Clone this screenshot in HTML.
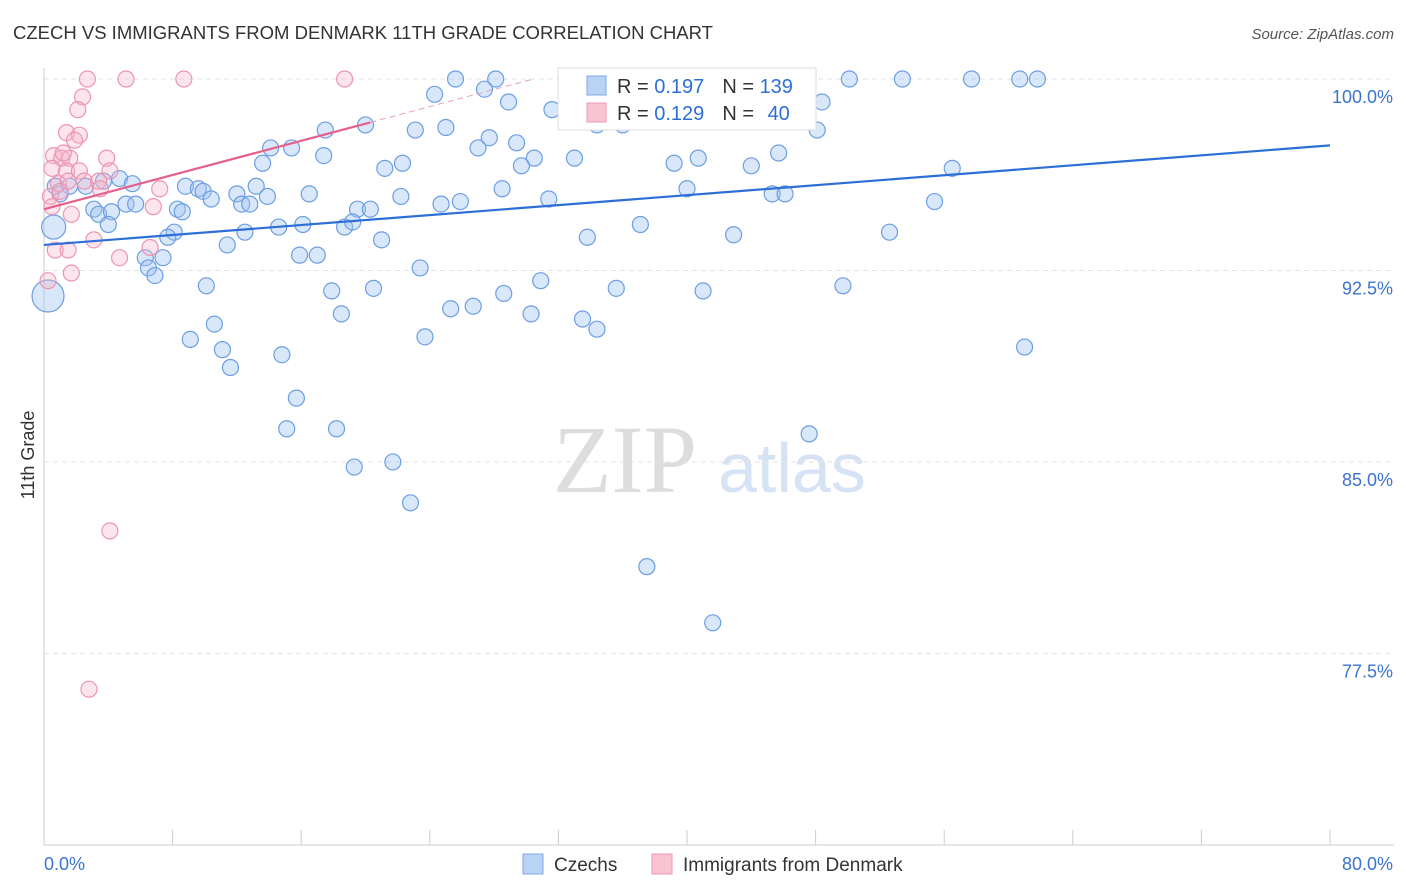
<!DOCTYPE html>
<html><head><meta charset="utf-8"><style>
body{margin:0;background:#fff;font-family:"Liberation Sans",sans-serif;}
svg{display:block}
</style></head><body>
<svg id="chart" width="1406" height="892" viewBox="0 0 1406 892" xmlns="http://www.w3.org/2000/svg">
<text x="13" y="39" font-size="18.5" fill="#333" font-family="Liberation Sans, sans-serif">CZECH VS IMMIGRANTS FROM DENMARK 11TH GRADE CORRELATION CHART</text>
<text x="1394" y="39" font-size="15" fill="#555" text-anchor="end" font-style="italic">Source: ZipAtlas.com</text>
<text x="553" y="492" font-size="96" fill="#ddd" font-family="Liberation Serif, serif">ZIP</text>
<text x="718" y="492" font-size="70" fill="#d5e3f5" font-family="Liberation Sans, sans-serif">atlas</text>
<g id="grid"></g>
<g id="axes"></g>
<g id="pts"></g>
<g id="lines"></g>
<g>
<rect x="558" y="68" width="258" height="62" fill="#fff" stroke="#ddd"/>
<rect x="587" y="76" width="19" height="19" fill="#b9d3f5" stroke="#7ea9e6"/>
<rect x="587" y="103" width="19" height="19" fill="#f8c3d3" stroke="#ee98b4"/>
<text x="617" y="93" font-size="20" fill="#333">R = <tspan fill="#2c6fd6">0.197</tspan><tspan dx="18">N = </tspan><tspan fill="#2c6fd6">139</tspan></text>
<text x="617" y="120" font-size="20" fill="#333">R = <tspan fill="#2c6fd6">0.129</tspan><tspan dx="18">N = </tspan><tspan dx="8" fill="#2c6fd6">40</tspan></text>
</g>
<g>
<rect x="523" y="854" width="20" height="20" fill="#b9d3f5" stroke="#7ea9e6"/>
<text x="554" y="871" font-size="19" fill="#333">Czechs</text>
<rect x="652" y="854" width="20" height="20" fill="#f8c3d3" stroke="#ee98b4"/>
<text x="683" y="871" font-size="19" fill="#333">Immigrants from Denmark</text>
</g>
<text transform="translate(34,455) rotate(-90)" font-size="18" fill="#333" text-anchor="middle">11th Grade</text>
</svg>
<script>
const yTicks=[100,92.5,85,77.5];
const yTickLabels=["100.0%","92.5%","85.0%","77.5%"];
const xTickVals=[0,8,16,24,32,40,48,56,64,72,80];
const blueX=[25.6,28.1,36.1,42.0,46.8,50.1,53.4,57.7,60.7,61.8,24.3,27.4,28.9,31.6,33.3,34.4,36.0,48.4,48.1,23.1,25.0,17.5,20.0,27.7,29.4,27.0,14.1,15.4,17.4,13.6,21.2,22.3,30.5,29.7,33.0,39.2,40.7,44.0,45.7,56.5,0.7,1.6,2.6,3.7,4.7,5.5,8.8,9.6,9.9,10.4,12.0,13.2,13.9,12.3,12.8,16.5,19.5,20.3,22.2,24.7,25.9,28.5,31.4,40.0,45.3,46.1,55.4,5.1,5.7,3.1,3.4,4.2,4.0,8.3,8.6,14.6,16.1,18.7,19.2,12.5,8.1,7.7,11.4,21.0,33.8,37.1,42.9,52.6,6.3,6.5,6.9,7.4,15.9,17.0,23.4,10.1,17.9,20.5,30.9,28.6,35.6,41.0,49.7,18.5,25.3,26.7,30.3,33.5,34.4,10.6,9.1,11.1,11.6,23.7,14.8,61.0,15.7,15.1,18.2,19.3,21.7,47.6,22.8,37.5,41.6,0.6,1.0,0.25];
const blueY=[100,100,100,100,100,100,100,100,100,100,99.4,99.6,99.1,98.8,99.0,98.2,98.2,99.1,98.0,98.0,98.1,98.0,98.2,97.7,97.5,97.3,97.3,97.3,97.0,96.7,96.5,96.7,96.9,96.6,96.9,96.7,96.9,96.6,97.1,96.5,95.8,95.8,95.8,96.0,96.1,95.9,95.8,95.7,95.6,95.3,95.5,95.8,95.4,95.1,95.1,95.5,94.9,94.9,95.4,95.1,95.2,95.7,95.3,95.7,95.5,95.5,95.2,95.1,95.1,94.9,94.7,94.8,94.3,94.9,94.8,94.2,94.3,94.2,94.4,94.0,94.0,93.8,93.5,93.7,93.8,94.3,93.9,94.0,93.0,92.6,92.3,93.0,93.1,93.1,92.6,91.9,91.7,91.8,92.1,91.6,91.8,91.7,91.9,90.8,91.0,91.1,90.8,90.6,90.2,90.4,89.8,89.4,88.7,89.9,89.2,89.5,87.5,86.3,86.3,84.8,85.0,86.1,83.4,80.9,78.7,94.2,95.5,91.5];
const pinkX=[2.7,5.1,8.7,18.7,2.4,2.1,1.4,2.2,1.9,0.6,1.1,1.6,1.2,3.9,0.5,1.4,2.2,4.1,0.9,1.5,2.5,3.4,0.4,1.0,7.2,6.8,1.7,3.1,6.6,0.7,1.5,4.7,1.7,0.25,4.1,2.8,0.5,3.5];
const pinkY=[100,100,100,100,99.3,98.8,97.9,97.8,97.6,97.0,96.9,96.9,97.1,96.9,96.5,96.4,96.4,96.4,95.9,96.0,96.0,96.0,95.4,95.6,95.7,95.0,94.7,93.7,93.4,93.3,93.3,93.0,92.4,92.1,82.3,76.1,95.0,95.7];
const blueTrend=[93.5,97.4];
const pinkTrend=[94.9,0.1675];
const NS="http://www.w3.org/2000/svg";
const X=v=>44+v*16.075, Y=v=>79+(100-v)*25.53;
function mk(tag,attrs,parent){const e=document.createElementNS(NS,tag);for(const k in attrs)e.setAttribute(k,attrs[k]);parent.appendChild(e);return e;}
const grid=document.getElementById('grid'),axes=document.getElementById('axes'),pts=document.getElementById('pts'),lines=document.getElementById('lines');
yTicks.forEach((t,i)=>{
 const l=mk('line',{x1:44,x2:1394,y1:Y(t),y2:Y(t),stroke:'#e3e3e3','stroke-dasharray':'5,4'},grid);
 
 
 const tx=mk('text',{x:1393,y:Y(t)+24,'font-size':18,fill:'#3b73cf','text-anchor':'end'},axes);
 tx.textContent=yTickLabels[i];
 
 
});
const xa=mk('line',{x1:44,x2:1394,y1:845,y2:845,stroke:'#ccc'},axes);


const ya=mk('line',{x1:44,x2:44,y1:68,y2:845,stroke:'#ccc'},axes);


xTickVals.forEach(v=>{
 const t=mk('line',{x1:X(v),x2:X(v),y1:830,y2:845,stroke:'#ccc'},axes);
 
 
});
const xl0=mk('text',{x:44,y:870,'font-size':18,fill:'#3b73cf'},axes);xl0.textContent='0.0%';


const xl1=mk('text',{x:1393,y:870,'font-size':18,fill:'#3b73cf','text-anchor':'end'},axes);xl1.textContent='80.0%';


blueX.forEach((v,i)=>{
 const n=blueX.length;let r=8;if(i===n-1)r=16;if(i===n-3)r=12;
 const c=mk('circle',{cx:X(v),cy:Y(blueY[i]),r:r,fill:'rgba(160,196,242,0.4)',stroke:'#6c9ee3','stroke-width':1.2},pts);
 
 
});
pinkX.forEach((v,i)=>{
 const c=mk('circle',{cx:X(v),cy:Y(pinkY[i]),r:8,fill:'rgba(246,180,200,0.35)',stroke:'#ec95b2','stroke-width':1.2},pts);
 
 
});
const bl=mk('line',{x1:X(0),y1:Y(blueTrend[0]),x2:X(80),y2:Y(blueTrend[1]),stroke:'#2c6fd6','stroke-width':2.2},lines);


const pe=20.3, pm=(100-pinkTrend[0])/pinkTrend[1];
const pl=mk('line',{x1:X(0),y1:Y(pinkTrend[0]),x2:X(pe),y2:Y(pinkTrend[0]+pinkTrend[1]*pe),stroke:'#e5618c','stroke-width':2.2},lines);


const pd=mk('line',{x1:X(pe),y1:Y(pinkTrend[0]+pinkTrend[1]*pe),x2:X(pm),y2:Y(100),stroke:'#e8a0b8','stroke-width':1,'stroke-dasharray':'6,4'},lines);


</script>
</body></html>
